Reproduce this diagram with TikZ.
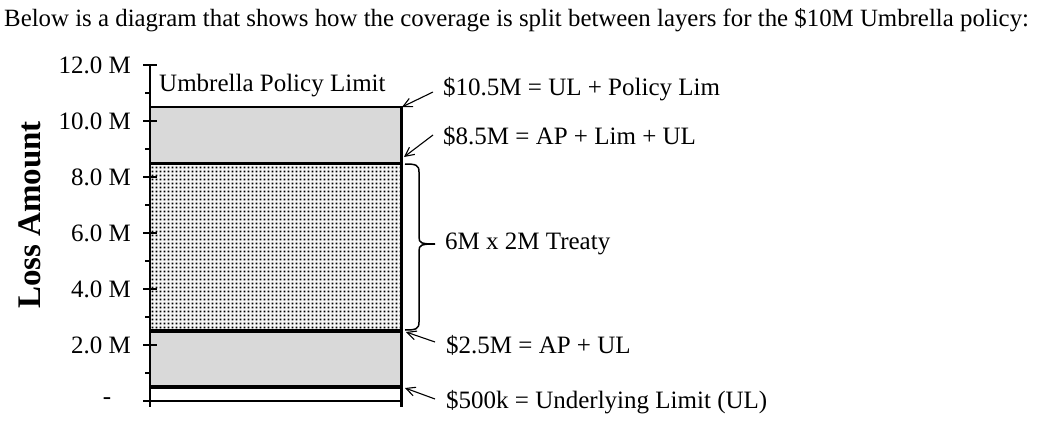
\documentclass[tikz,border=0pt]{standalone}
\usepackage{fontspec}
\setmainfont{Liberation Serif}
\usetikzlibrary{patterns,arrows.meta}
\pgfdeclarepatternformonly{bigdots}{\pgfqpoint{0pt}{0pt}}{\pgfqpoint{3.5pt}{3.5pt}}{\pgfqpoint{3.5pt}{3.5pt}}{\pgfpathrectangle{\pgfqpoint{0.7pt}{0.7pt}}{\pgfqpoint{2.1pt}{2.1pt}}\pgfusepath{fill}}
\begin{document}
\begin{tikzpicture}[x=1pt,y=-1pt,
  lbl/.style={font=\fontsize{25}{30}\selectfont, inner sep=0pt, anchor=west},
  ticklbl/.style={font=\fontsize{25}{28}\selectfont, inner sep=0pt, anchor=east},
  pointer/.style={-{Straight Barb[length=9pt,width=9pt]}, line width=1.1pt},
  layerfill/.style={fill=black!15},
  axisline/.style={line width=2pt},
  bandline/.style={line width=3pt}
]
\useasboundingbox (0,0) rectangle (1042,431);
% title
\node[lbl, font=\fontsize{24.85}{30}\selectfont] (title) at (4,20) {Below is a diagram that shows how the coverage is split between layers for the \$10M Umbrella policy:};
% axis label
\node[font=\bfseries\fontsize{33}{36}\selectfont, rotate=90, inner sep=0pt] (ylabel) at (30,215) {Loss Amount};
% layers
\fill[layerfill] (150,107) rectangle (401,163);
\fill[layerfill] (150,331) rectangle (401,387);
\fill[black!3] (150,163) rectangle (401,331);
\fill[pattern=bigdots, pattern color=black] (150,163) rectangle (401,331);
% axis
\draw[axisline] (150,65) -- (150,407);
\foreach \m in {0,2,...,12} \draw[axisline] (143,{401-28*\m}) -- (157,{401-28*\m});
\foreach \m in {1,3,...,11} \draw[axisline] (145,{401-28*\m}) -- (150,{401-28*\m});
\foreach \m in {2,4,...,12} \node[ticklbl] (tk\m) at (131,{401-28*\m}) {\m.0 M};
\node[ticklbl, anchor=center] (tk0) at (107,401) {-};
% box lines
\draw[line width=2.5pt] (150,107) -- (401,107);
\draw[bandline] (150,163) -- (401,163);
\draw[line width=3.5pt] (150,331) -- (401,331);
\draw[line width=4pt] (150,387) -- (401,387);
\draw[line width=2.5pt] (143,401) -- (401,401);
\draw[bandline] (401,105.75) -- (401,407);
% top label
\node[lbl] (upl) at (159,86) {Umbrella Policy Limit};
% right labels
\node[lbl] (l105) at (443,89) {\$10.5M = UL + Policy Lim};
\node[lbl] (l85) at (443,136) {\$8.5M = AP + Lim + UL};
\node[lbl] (ltreaty) at (445,244) {6M x 2M Treaty};
\node[lbl] (l25) at (446,345) {\$2.5M = AP + UL};
\node[lbl] (l05) at (446,402) {\$500k = Underlying Limit (UL)};
% pointer ends
\coordinate (s105) at (433,92);  \coordinate (t105) at (402,107);
\coordinate (s85) at (433,135);  \coordinate (t85) at (404,157);
\coordinate (s25) at (435,342);  \coordinate (t25) at (406,332);
\coordinate (s05) at (435,399);  \coordinate (t05) at (405,388);
\draw[pointer] (s105) -- (t105);
\draw[pointer] (s85) -- (t85);
\draw[pointer] (s25) -- (t25);
\draw[pointer] (s05) -- (t05);
% brace
\coordinate (b1) at (405,164);
\coordinate (bm) at (435,244);
\coordinate (b2) at (405,330);
\draw[line width=1.5pt, line join=round]
  (b1) .. controls (416,164) and (419,165) .. (419,172)
  -- (419,237) .. controls (419,243) and (421,244) .. (bm)
  (bm) .. controls (421,244) and (419,245) .. (419,251)
  -- (419,322) .. controls (419,329) and (416,330) .. (b2);
\end{tikzpicture}
\end{document}
